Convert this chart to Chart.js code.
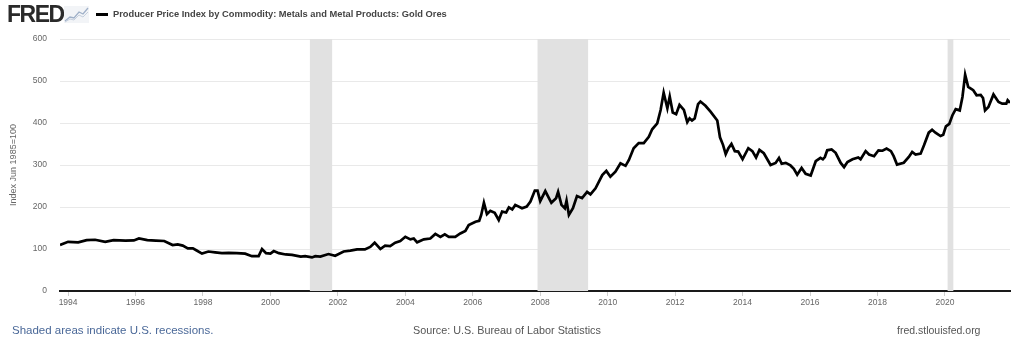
<!DOCTYPE html>
<html><head><meta charset="utf-8">
<script src="https://cdn.jsdelivr.net/npm/chart.js@4.4.1/dist/chart.umd.min.js"></script>
<style>
html,body{margin:0;padding:0;background:#fff;width:1024px;height:349px;overflow:hidden;font-family:"Liberation Sans",Arial,sans-serif;}
#wrap{position:relative;width:1024px;height:349px;}
#c{position:absolute;left:0;top:0;}
.abs{position:absolute;white-space:nowrap;}
#logo{left:7px;top:1px;font-size:23px;font-weight:bold;color:#2a2a2a;letter-spacing:-1.5px;line-height:26px;}
#icon{left:64px;top:6px;}
#dash{left:96px;top:13px;width:12px;height:3px;background:#000;}
#title{left:113px;top:8px;font-size:9.3px;font-weight:bold;color:#444;line-height:13px;}
#f1{left:12px;top:323px;font-size:11.5px;color:#4a6898;line-height:14px;}
#f2{left:413px;top:324px;font-size:10.8px;color:#555;line-height:13px;}
#f3{left:897px;top:324px;font-size:10.5px;color:#555;line-height:13px;}
</style>
</head><body>
<div id="wrap">
<canvas id="c" width="1024" height="349"></canvas>
<div class="abs" id="logo">FRED</div>
<svg class="abs" id="icon" width="25" height="17" viewBox="0 0 25 17">
<rect x="0" y="0" width="25" height="17" fill="#f2f4f7"/>
<polyline points="1,15 6,11 10,12 15,6 19,8 24,2" fill="none" stroke="#9fb0c8" stroke-width="1.3"/>
<polyline points="1,16 6,13 10,14 15,9 19,11 24,6" fill="none" stroke="#c5cfdd" stroke-width="1"/>
</svg>
<div class="abs" id="dash"></div>
<div class="abs" id="title">Producer Price Index by Commodity: Metals and Metal Products: Gold Ores</div>
<div class="abs" id="f1">Shaded areas indicate U.S. recessions.</div>
<div class="abs" id="f2">Source: U.S. Bureau of Labor Statistics</div>
<div class="abs" id="f3">fred.stlouisfed.org</div>
</div>
<script>
// decimal-year dates and index values
const dates = [
1993.76,1994.0,1994.3,1994.55,1994.8,1995.1,1995.35,1995.7,1995.95,1996.1,1996.35,1996.6,1996.85,
1997.1,1997.25,1997.4,1997.55,1997.7,1997.8,1997.97,1998.16,1998.36,1998.56,1998.76,1999.0,1999.25,
1999.45,1999.65,1999.75,1999.87,2000.0,2000.1,2000.25,2000.45,2000.64,2000.9,
2001.03,2001.23,2001.33,2001.48,2001.72,2001.92,2002.17,2002.37,2002.57,2002.8,2002.96,2003.09,2003.26,
2003.4,2003.55,2003.7,2003.85,2004.0,2004.15,2004.25,2004.35,2004.55,2004.74,2004.89,2005.04,2005.17,
2005.29,2005.48,2005.63,2005.78,2005.88,2006.08,2006.19,2006.25,2006.33,2006.42,2006.52,2006.65,2006.77,
2006.87,2006.99,2007.07,2007.17,2007.26,2007.46,2007.6,2007.71,2007.84,2007.92,2008.0,
2008.15,2008.33,2008.47,2008.53,2008.63,2008.73,2008.78,2008.85,2008.97,2009.09,2009.24,2009.39,2009.49,
2009.64,2009.84,2009.96,2010.08,2010.23,2010.38,2010.53,2010.63,2010.77,2010.92,2011.07,2011.22,2011.32,
2011.47,2011.57,2011.66,2011.77,2011.84,2011.93,2012.03,2012.13,2012.26,2012.36,2012.43,2012.5,2012.58,
2012.68,2012.75,2012.9,2013.05,2013.25,2013.33,2013.42,2013.5,2013.58,2013.67,2013.77,2013.87,2014.0,
2014.17,2014.29,2014.4,2014.5,2014.63,2014.83,2014.98,
2015.08,2015.16,2015.28,2015.42,2015.52,2015.62,2015.75,2015.87,2016.02,2016.17,2016.31,2016.38,2016.44,
2016.51,2016.64,2016.76,2016.91,2017.01,2017.11,2017.26,2017.43,2017.5,2017.65,2017.75,2017.9,2018.03,
2018.15,2018.27,2018.4,2018.48,2018.58,2018.78,2018.93,2019.03,2019.13,2019.28,2019.38,2019.52,2019.62,
2019.72,2019.87,2019.95,2020.03,2020.13,2020.22,2020.32,2020.44,2020.52,2020.6,2020.69,2020.84,2020.94,
2021.06,2021.13,2021.19,2021.29,2021.44,2021.59,2021.7,2021.82,2021.86,2021.93
];
const values = [
109.5,117,116,121,122,117,121,120,120.5,125,121,120,119,
109.5,111,108,101.5,101.5,97,89,94,92,90,91,90,89,
83,83,100,90,89,95,90,87,86,82,
83,80,83,82,88,84,94,96,99,99,105,115,100,
108,107,115,119,129,123,125,116,123,125,136,129,135,
129,129,137,143,157,165,167,181,210,183,191,186,169,
189,187,199,194,205,197,201,213,239,239,214,
238,210,221,236,205,197,215,181,197,226,221,236,230,
244.5,276,286,272,284,304,298,312,340,352,352,367,385,
399,431,472,435,463,425,421,443,431,402,411,406,411,
445,451,441,427,406,366,348,326,340,350,333,332,314,
340,333,318,336,328,300,305,
316.7,303,305,299,291,277,293,279,275,309,317,313.5,319,
335,337,329,305,295,307,313.5,318,313.5,333,325,321,335,
334,339,333,321,301,305.5,319,331,325,327,347,377,384,
377,369,372,392,398,418,433,430,462,515,486,478,466,
467,459.5,430,438,468,450,446,446,454,448
];
const xTickYears = [1994,1996,1998,2000,2002,2004,2006,2008,2010,2012,2014,2016,2018,2020];
const yTickValues = [0,100,200,300,400,500,600];
const recessionStart = [2001.17, 2007.92, 2020.08];
const recessionEnd = [2001.83, 2009.42, 2020.25];
const seriesName = 'Producer Price Index by Commodity: Metals and Metal Products: Gold Ores';

const points = dates.map((d,i)=>({x:d,y:values[i]}));

const recessionPlugin = {
  id:'recessions',
  beforeDatasetsDraw(chart){
    const {ctx, chartArea, scales:{x}} = chart;
    ctx.save();
    ctx.fillStyle = '#e1e1e1';
    recessionStart.forEach((s,i)=>{
      const x0 = x.getPixelForValue(s), x1 = x.getPixelForValue(recessionEnd[i]);
      ctx.fillRect(x0, chartArea.top, x1-x0, chartArea.bottom-chartArea.top);
    });
    ctx.restore();
  }
};

new Chart(document.getElementById('c'), {
  type:'line',
  data:{datasets:[{label:seriesName, data:points, borderColor:'#000', borderWidth:2.7, pointRadius:0, tension:0, fill:false}]},
  options:{
    responsive:false, animation:false, devicePixelRatio:1,
    layout:{padding:{left:0,right:14,top:39,bottom:28}},
    plugins:{legend:{display:false}, tooltip:{enabled:false}},
    scales:{
      x:{type:'linear', min:dates[0], max:dates[dates.length-1],
        afterBuildTicks:s=>{s.ticks = xTickYears.map(v=>({value:v}));},
        afterFit:s=>{s.height=30;},
        ticks:{callback:v=>String(v), maxRotation:0, autoSkip:false, color:'#666', padding:2,
          font:{family:'"Liberation Sans", Arial, sans-serif', size:8.5}},
        grid:{drawOnChartArea:false, drawTicks:true, tickLength:5, color:'#cfcfcf'},
        border:{display:true, color:'#1a1a1a', width:2}
      },
      y:{min:0, max:600,
        afterBuildTicks:s=>{s.ticks = yTickValues.map(v=>({value:v}));},
        afterFit:s=>{s.width=60;},
        ticks:{color:'#666', padding:13, font:{family:'"Liberation Sans", Arial, sans-serif', size:8.5}},
        grid:{color:'#e9e9e9', drawTicks:false, lineWidth:1},
        border:{display:false},
        title:{display:true, text:'Index Jun 1985=100', color:'#666', padding:{top:8,bottom:0},
          font:{family:'"Liberation Sans", Arial, sans-serif', size:9}}
      }
    }
  },
  plugins:[recessionPlugin]
});
</script>
</body></html>
